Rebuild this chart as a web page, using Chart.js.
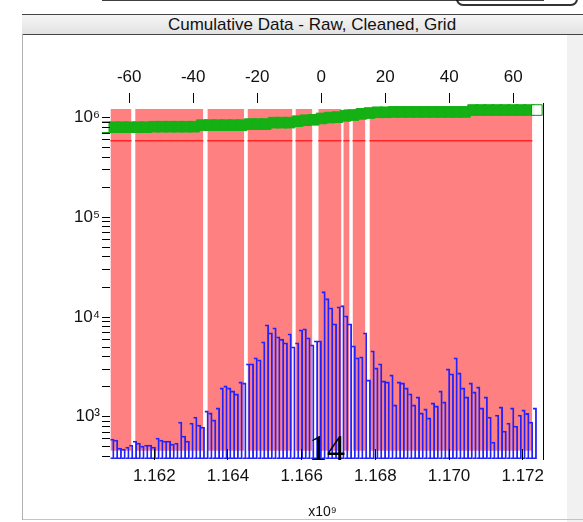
<!DOCTYPE html>
<html>
<head>
<meta charset="utf-8">
<script src="https://cdn.jsdelivr.net/npm/chart.js@4.4.1/dist/chart.umd.min.js"></script>
<style>
  body { margin: 0; width: 583px; height: 522px; overflow: hidden; position: relative; background: #fff; font-family: "Liberation Sans", Arial, sans-serif; }
  #rightstrip { position: absolute; left: 567px; top: 34px; width: 16px; height: 488px; background: #f1f1f1; }
  #leftcover { position: absolute; left: 0; top: 34px; width: 22px; height: 488px; background: #fff; }
  #leftline { position: absolute; left: 22px; top: 34px; width: 1px; height: 486px; background: #b0b0b0; }
  #bottomline { position: absolute; left: 22px; top: 519px; width: 561px; height: 1px; background: #c4c4c4; }
  #header { position: absolute; left: 22px; top: 14px; width: 561px; height: 19px; border-top: 1px solid #444; border-bottom: 1px solid #444;
            background: linear-gradient(#f6f6f6, #e2e2e2); font-size: 17px; line-height: 19px; color: #111; }
  #header span { position: absolute; left: 0; width: 580px; text-align: center; }
  #knob { position: absolute; left: 456px; top: -8px; width: 118px; height: 10px; border: 2px solid #333; border-radius: 7px; }
  #wrap { position: absolute; left: 0; top: 0; width: 583px; height: 522px; }
  #mark { position: absolute; left: 309px; top: 430px; font-family: "Liberation Serif", "DejaVu Serif", serif; font-size: 36px; line-height: 36px; color: #000; }
</style>
</head>
<body>
<div id="rightstrip"></div>
<div id="bottomline"></div>
<div id="header"><span>Cumulative Data - Raw, Cleaned, Grid</span></div>
<div id="knob"></div>
<div id="wrap"><canvas id="plot"></canvas></div>
<div id="leftcover"></div>
<div id="leftline"></div>
<div id="mark">14</div>
<script>
const FONT = '"Liberation Sans", Arial, sans-serif';

// Raw counts per bin (x in units of 1e9)
const binStart = 1.160805;
const binWidth = 0.0001024;
const counts = [
    598, 584, 486, 475, 497, 521, 571, 545, 509, 521,
    521, 497, 612, 584, 571, 571, 533, 545, 886, 641,
    571, 866, 995, 827, 790, 1144, 1092, 929, 1226, 1947,
    2040, 1947, 1817, 1695, 2237, 2186, 3394, 3394, 3899, 3724,
    5645, 8371, 6955, 7809, 6339, 6000, 5516, 6796, 5029, 5516,
    7457, 7631, 6194, 5267, 5777, 5777, 17960, 15280, 12400, 8566,
    12690, 12990, 10307, 8566, 5146, 3899, 3990, 6955, 2343, 4585,
    3093, 3394, 2290, 2237, 2631, 1314, 2237, 2186, 1947, 1700,
    1314, 1581, 1092, 1200, 973, 1376, 1284, 1817, 1408, 3022,
    2693, 3899, 2755, 1947, 1581, 2186, 1775, 1993, 1226, 1581,
    995, 558, 1042, 1254, 720, 866, 1226, 808, 1042, 1170,
    1080, 886, 1226
];

// Cumulative (green squares)
const cumStart = 1.160697;
const cumStep = 0.0002164;
const cumValues = [
    8.0e5, 8.0e5, 8.0e5, 8.0e5, 8.0e5, 8.0e5,
    8.1e5, 8.1e5, 8.1e5, 8.1e5, 8.1e5, 8.1e5,
    8.4e5, 8.4e5, 8.4e5, 8.4e5, 8.4e5, 8.4e5,
    8.6e5, 8.6e5, 8.6e5,
    8.9e5, 8.9e5, 8.9e5,
    9.2e5, 9.4e5, 9.5e5, 9.8e5, 1.0e6, 1.01e6, 1.04e6, 1.06e6, 1.09e6, 1.11e6,
    1.13e6, 1.13e6,
    1.14e6, 1.14e6, 1.14e6, 1.14e6, 1.14e6, 1.14e6, 1.14e6, 1.14e6, 1.14e6, 1.14e6,
    1.19e6, 1.19e6, 1.19e6, 1.19e6, 1.19e6, 1.19e6, 1.19e6, 1.19e6, 1.19e6
];

// Grid coverage (pink blocks) and level line (red)
const gridStarts = [1.16081, 1.16148, 1.16344, 1.16453, 1.16583, 1.16645, 1.16713, 1.16738, 1.16784];
const gridEnds   = [1.16138, 1.16333, 1.16444, 1.16575, 1.16629, 1.16708, 1.16730, 1.16773, 1.17226];
const gridTop = 1.22e6;
const gridBase = 455;
const levelValue = 5.87e5;

// Axes
const xTicks = [1.162, 1.164, 1.166, 1.168, 1.170, 1.172];
const topTicks = [-60, -40, -20, 0, 20, 40, 60];
const yMajor = [1e3, 1e4, 1e5, 1e6];
const supers = {3: '\u00b3', 4: '\u2074', 5: '\u2075', 6: '\u2076'};

var histData = counts.map(function(c, i) { return {x: binStart + (i + 0.5) * binWidth, y: c}; });
var cumData = cumValues.map(function(v, i) { return {x: cumStart + i * cumStep, y: v}; });

function segmentPoints(level) {
    var pts = [];
    for (var i = 0; i < gridStarts.length; i++) {
        pts.push({x: gridStarts[i], y: level}, {x: gridEnds[i], y: level});
        if (i < gridStarts.length - 1)
            pts.push({x: (gridEnds[i] + gridStarts[i + 1]) / 2, y: null});
    }
    return pts;
}

var yTicks = [];
for (var e = 2; e <= 6; e++) {
    for (var m = 1; m <= 9; m++) {
        var v = m * Math.pow(10, e);
        if (v >= 377 && v <= 1.4e6) yTicks.push(v);
    }
}

var last = cumValues.length - 1;

var plot = new Chart(document.getElementById('plot'), {
    type: 'bar',
    data: {
        datasets: [{
            type: 'line',
            label: 'Grid',
            data: segmentPoints(gridTop),
            borderColor: 'rgba(0,0,0,0)',
            borderWidth: 0,
            pointRadius: 0,
            backgroundColor: 'rgb(255,128,128)',
            fill: {value: gridBase},
            spanGaps: false,
            order: 4
        }, {
            type: 'line',
            label: 'Level',
            data: segmentPoints(levelValue),
            borderColor: '#ff2626',
            borderWidth: 1.5,
            pointRadius: 0,
            fill: false,
            spanGaps: false,
            order: 3
        }, {
            type: 'bar',
            label: 'Raw',
            data: histData,
            borderColor: '#2222ff',
            borderWidth: 1.2,
            borderSkipped: 'left',
            backgroundColor: 'rgba(255,255,255,0)',
            barPercentage: 1,
            categoryPercentage: 1,
            order: 2
        }, {
            type: 'line',
            label: 'Cleaned',
            data: cumData,
            showLine: false,
            pointStyle: 'rect',
            pointRadius: 7.5,
            borderWidth: 1,
            borderColor: function(ctx) {
                return (ctx.dataIndex === 0 || ctx.dataIndex === last) ? '#0a9a0a' : '#14b014';
            },
            backgroundColor: function(ctx) {
                return (ctx.dataIndex === 0 || ctx.dataIndex === last) ? 'rgba(255,255,255,0.9)' : '#14b014';
            },
            order: 1
        }]
    },
    options: {
        responsive: true,
        maintainAspectRatio: false,
        animation: false,
        layout: {padding: {left: 0, right: 40, top: 0, bottom: 0}},
        plugins: {legend: {display: false}, tooltip: {enabled: false}},
        scales: {
            x: {
                type: 'linear', position: 'bottom', bounds: 'data', min: 1.16058, max: 1.17255, offset: false,
                afterBuildTicks: function(s) { s.ticks = xTicks.map(function(v) { return {value: v}; }); },
                afterFit: function(s) { s.height = 63; },
                grid: {drawOnChartArea: false, tickLength: -10, color: '#000', z: 1, offset: false},
                border: {color: '#000', width: 1},
                ticks: {padding: 17, color: '#111', autoSkip: false, maxRotation: 0,
                        font: {size: 17, family: FONT},
                        callback: function(v) { return v.toFixed(3); }},
                title: {display: true, text: 'x10\u2079', color: '#111', font: {size: 14, family: FONT},
                        padding: {top: 0, bottom: 1}}
            },
            x2: {
                type: 'linear', position: 'top', bounds: 'data', min: -68.5, max: 69.3, offset: false,
                afterDataLimits: function(s) { s.min = -68.5; s.max = 69.3; },
                afterBuildTicks: function(s) { s.ticks = topTicks.map(function(v) { return {value: v}; }); },
                afterFit: function(s) { s.height = 103; },
                grid: {drawOnChartArea: false, tickLength: 10, color: '#000', z: 1, offset: false},
                border: {color: '#000', width: 1},
                ticks: {padding: 5, color: '#111', autoSkip: false, maxRotation: 0,
                        font: {size: 17, family: FONT}}
            },
            y: {
                type: 'logarithmic', position: 'left', min: 377, max: 1.4e6,
                afterBuildTicks: function(s) { s.ticks = yTicks.map(function(v) { return {value: v}; }); },
                afterFit: function(s) { s.width = 102; },
                grid: {drawOnChartArea: false, tickLength: -8, color: '#000', z: 1},
                border: {color: '#000', width: 1},
                ticks: {padding: 10, color: '#111', autoSkip: false,
                        font: {size: 17, family: FONT},
                        callback: function(v) {
                            var k = Math.round(Math.log10(v));
                            return (yMajor.indexOf(v) >= 0) ? '10' + supers[k] : '';
                        }}
            },
            y2: {
                type: 'linear', position: 'right',
                afterFit: function(s) { s.width = 0; },
                grid: {display: true, drawOnChartArea: false, drawTicks: false},
                border: {display: true, color: '#000', width: 1},
                ticks: {display: false}
            }
        }
    }
});
</script>
</body>
</html>
